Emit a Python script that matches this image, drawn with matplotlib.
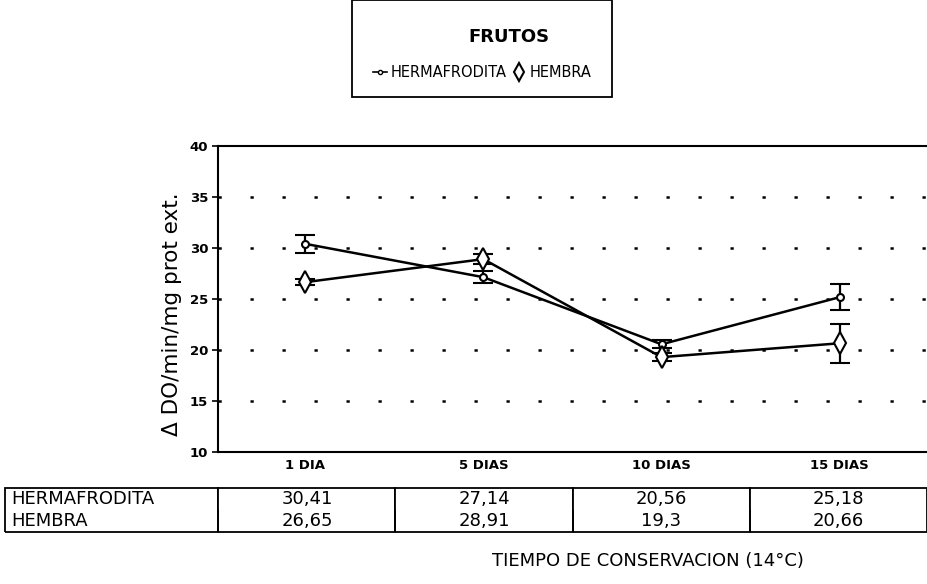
import matplotlib
matplotlib.use("Agg")
from matplotlib import pyplot as plt
from matplotlib.lines import Line2D
from matplotlib.patches import Rectangle

plt.rcParams['font.family'] = ['DejaVu Sans']

categories = ["1 DIA", "5 DIAS", "10 DIAS", "15 DIAS"]
herma = [30.41, 27.14, 20.56, 25.18]
herma_err = [0.9, 0.6, 0.4, 1.3]
hembra = [26.65, 28.91, 19.3, 20.66]
hembra_err = [0.3, 0.5, 0.4, 1.9]
herma_txt = ["30,41", "27,14", "20,56", "25,18"]
hembra_txt = ["26,65", "28,91", "19,3", "20,66"]

fig = plt.figure(figsize=(9.27, 5.84), dpi=100)
ax = fig.add_axes([0.235, 0.226, 0.765, 0.524])

x = list(range(len(categories)))
ax.errorbar(x, herma, yerr=herma_err, color="black", lw=1.8, marker="o", ms=5,
            mfc="white", mec="black", mew=1.5, capsize=7, elinewidth=1.6, capthick=1.6,
            zorder=3)
ax.errorbar(x, hembra, yerr=hembra_err, color="black", lw=1.8, marker="d", ms=11,
            mfc="white", mec="black", mew=1.5, capsize=7, elinewidth=1.6, capthick=1.6,
            zorder=3)

ax.set_xlim(-0.49, 3.49)
ax.set_ylim(10, 40)
ax.set_yticks([10, 15, 20, 25, 30, 35, 40])
ax.set_xticks(x)
ax.set_xticklabels(categories, fontsize=9.5, fontweight="bold")
for lbl in ax.get_yticklabels():
    lbl.set_fontsize(9.5)
    lbl.set_fontweight("bold")
ax.tick_params(axis="x", length=0, pad=5)
ax.tick_params(axis="y", length=4, width=1.2, direction="out", pad=3)
for yv in [15, 20, 25, 30, 35]:
    ax.axhline(yv, color="black", lw=1.8, linestyle=(0, (1.3, 11.5)), zorder=1)
ax.spines["right"].set_visible(False)
for side in ["left", "bottom", "top"]:
    ax.spines[side].set_linewidth(1.5)
ax.set_ylabel("Δ DO/min/mg prot ext.", fontsize=15.5)
ax.yaxis.set_label_coords(-0.05, 0.45)

# data table under the axis
cell_text = [["HERMAFRODITA"] + herma_txt, ["HEMBRA"] + hembra_txt]
tab = ax.table(cellText=cell_text, colWidths=[213] + [177] * 4,
               bbox=[-0.30, -0.261, 1.30, 0.143], cellLoc="center")
tab.auto_set_font_size(False)
tab.set_fontsize(13)
for (r, c), cell in tab.get_celld().items():
    cell.set_linewidth(1.3)
    cell.visible_edges = "TLR" if r == 0 else "BLR"
    if c == 0:
        cell.get_text().set_ha("left")
        cell._loc = "left"
        cell.PAD = 0.03

fig.text(0.699, 0.030, "TIEMPO DE CONSERVACION (14°C)", ha="center", fontsize=13)

# legend box
fig.patches.append(Rectangle((0.380, 0.834), 0.280, 0.166, transform=fig.transFigure,
                             fill=False, ec="black", lw=1.3))
fig.text(0.549, 0.936, "FRUTOS", ha="center", va="center", fontsize=13, fontweight="bold")
handles = [Line2D([], [], color="black", lw=1.2, marker="o", ms=3, mfc="white"),
           Line2D([], [], color="black", lw=0, marker="d", ms=9, mfc="white", mew=1.5)]
fig.legend(handles, ["HERMAFRODITA", "HEMBRA"], loc="center", bbox_to_anchor=(0.520, 0.876),
           ncol=2, frameon=False, fontsize=10.5, handlelength=1.0, handletextpad=0.2,
           columnspacing=0.4)

fig.savefig("out.png", dpi=100)
